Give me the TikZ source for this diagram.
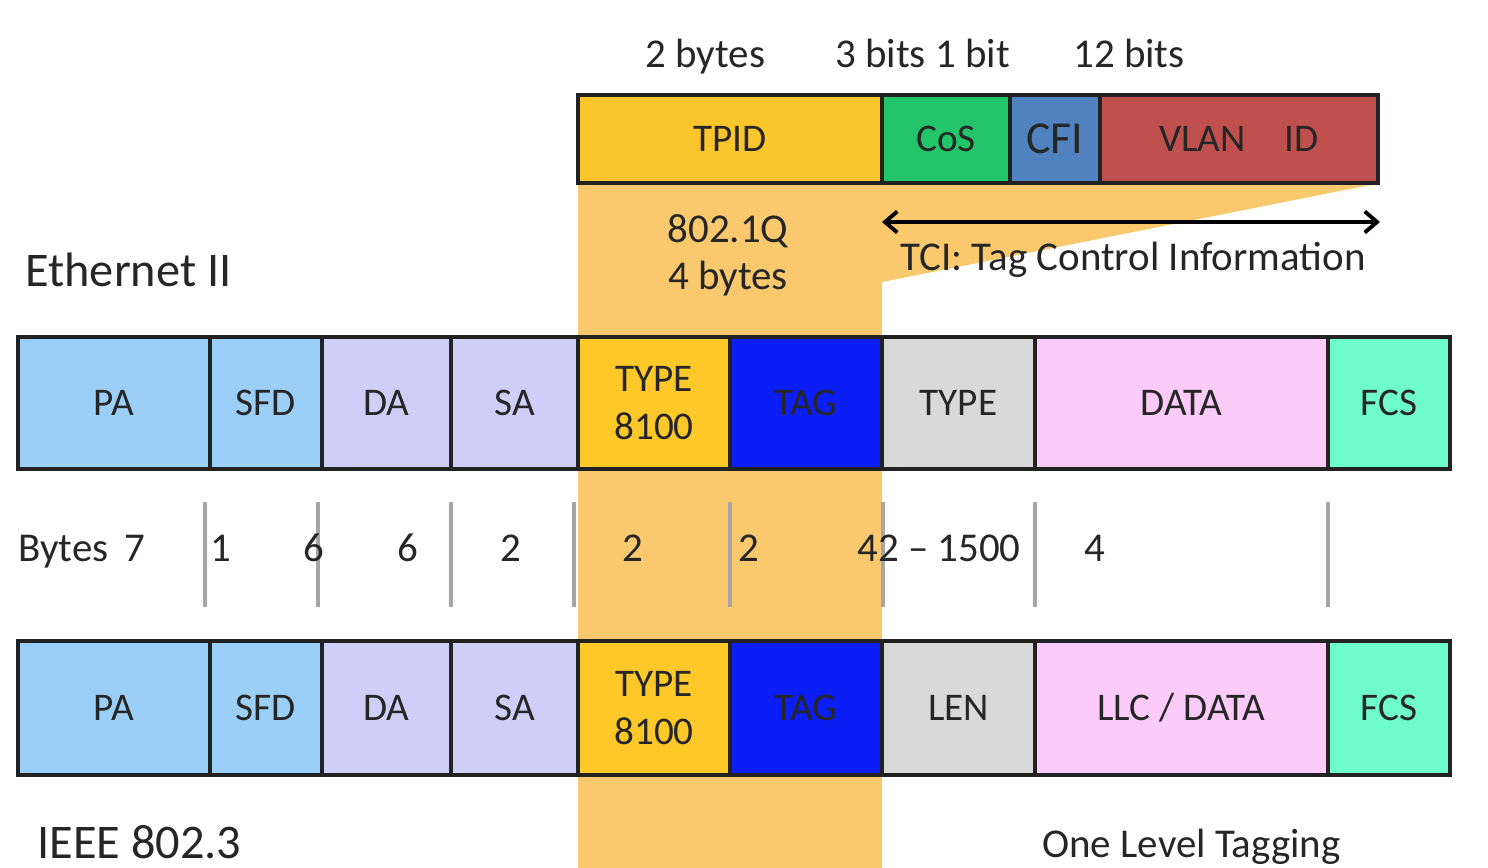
\documentclass[tikz,border=0pt]{standalone}
\usepackage{fontspec}
\setmainfont{Carlito}
\usetikzlibrary{arrows.meta}
\definecolor{band}{RGB}{250,201,110}
\definecolor{cPA}{RGB}{155,207,248}
\definecolor{cDA}{RGB}{206,206,248}
\definecolor{cTY}{RGB}{254,200,40}
\definecolor{cTAG}{RGB}{10,30,245}
\definecolor{cGR}{RGB}{217,217,217}
\definecolor{cDATA}{RGB}{252,203,249}
\definecolor{cFCS}{RGB}{110,252,205}
\definecolor{cTPID}{RGB}{251,197,44}
\definecolor{cCOS}{RGB}{34,197,106}
\definecolor{cCFI}{RGB}{79,130,190}
\definecolor{cVLAN}{RGB}{192,80,77}
\definecolor{ink}{RGB}{38,38,38}
\definecolor{edge}{RGB}{34,34,34}
\definecolor{tick}{RGB}{165,165,165}
\newcommand\fld[7]{\node[fld, anchor=north west, minimum width={(#3-#2)*0.02cm}, minimum height={(#5-#4)*0.02cm}, fill=#6] (#1) at (#2,#4) {#7};}
\begin{document}
\begin{tikzpicture}[x=0.02cm,y=-0.02cm,
  fld/.style={draw=edge, line width=1.8pt, inner sep=0pt, outer sep=0pt, text=ink, align=center,
    font=\fontsize{22.3}{27}\selectfont},
  lbl/.style={text=ink, inner sep=0pt, font=\fontsize{23.3}{27}\selectfont},
  big/.style={text=ink, inner sep=0pt, font=\fontsize{27.5}{32}\selectfont},
  sep/.style={draw=tick, line width=1.8pt}]
\useasboundingbox (0,0) rectangle (1488,868);
% orange band and wedge
\fill[band] (578,183) rectangle (882,868);
\fill[band] (882,183) -- (1380,183) -- (882,282) -- cycle;
% top tag row
\fld{tpid}{578}{882}{95}{183}{cTPID}{TPID}
\fld{cos}{882}{1010}{95}{183}{cCOS}{CoS}
\fld{cfi}{1010}{1100}{95}{183}{cCFI}{\fontsize{26}{30}\selectfont CFI}
\fld{vlan}{1100}{1378}{95}{183}{cVLAN}{VLAN\quad ID}
% top labels
\node[lbl, anchor=base west] (l2b) at (645,68) {2 bytes};
\node[lbl, anchor=base west] (l31) at (835,68) {3 bits 1 bit};
\node[lbl, anchor=base west] (l12) at (1073,68) {12 bits};
\node[lbl, anchor=base, align=center] (q) at (728,290) {802.1Q\\4 bytes};
\coordinate (tciL) at (882,222);
\coordinate (tciR) at (1380,222);
\draw[line width=2.2pt, {Straight Barb[length=7pt,width=12pt]}-{Straight Barb[length=7pt,width=12pt]}] (tciL) -- (tciR);
\node[lbl, anchor=base west] (tci) at (900,271) {TCI: Tag Control Information};
\node[big, anchor=base west] (eth) at (25,287) {Ethernet II};
% Ethernet II row
\fld{pa1}{18}{210}{337}{469}{cPA}{PA}
\fld{sfd1}{210}{322}{337}{469}{cPA}{SFD}
\fld{da1}{322}{451}{337}{469}{cDA}{DA}
\fld{sa1}{451}{578}{337}{469}{cDA}{SA}
\fld{ty1}{578}{730}{337}{469}{cTY}{TYPE\\8100}
\fld{tag1}{730}{882}{337}{469}{cTAG}{TAG}
\fld{type1}{882}{1035}{337}{469}{cGR}{TYPE}
\fld{data1}{1035}{1328}{337}{469}{cDATA}{DATA}
\fld{fcs1}{1328}{1450}{337}{469}{cFCS}{FCS}
% bytes row
\foreach \x/\n in {205/a,318/b,451/c,574/d,730/e,883/f,1035/g,1328/h}{
  \coordinate (t\n1) at (\x,502); \coordinate (t\n2) at (\x,607);
  \draw[sep] (t\n1) -- (t\n2);}
\node[lbl, anchor=base west] (b7) at (18,561) {Bytes\, 7};
\node[lbl, anchor=base west] (b1) at (210,561) {1};
\node[lbl, anchor=base] (b6a) at (314,561) {6};
\node[lbl, anchor=base] (b6b) at (408,561) {6};
\node[lbl, anchor=base] (b2a) at (511,561) {2};
\node[lbl, anchor=base] (b2b) at (633,561) {2};
\node[lbl, anchor=base west] (b2c) at (738,561) {2};
\node[lbl, anchor=base east] (b42) at (1021,561) {42 -- 1500};
\node[lbl, anchor=base] (b4) at (1095,561) {4};
% IEEE 802.3 row
\fld{pa2}{18}{210}{641}{775}{cPA}{PA}
\fld{sfd2}{210}{322}{641}{775}{cPA}{SFD}
\fld{da2}{322}{451}{641}{775}{cDA}{DA}
\fld{sa2}{451}{578}{641}{775}{cDA}{SA}
\fld{ty2}{578}{730}{641}{775}{cTY}{TYPE\\8100}
\fld{tag2}{730}{882}{641}{775}{cTAG}{TAG}
\fld{len2}{882}{1035}{641}{775}{cGR}{LEN}
\fld{data2}{1035}{1328}{641}{775}{cDATA}{LLC / DATA}
\fld{fcs2}{1328}{1450}{641}{775}{cFCS}{FCS}
\node[big, anchor=base west] (ieee) at (37,858) {IEEE 802.3};
\node[lbl, anchor=base west] (olt) at (1042,857) {One Level Tagging};
\end{tikzpicture}
\end{document}
